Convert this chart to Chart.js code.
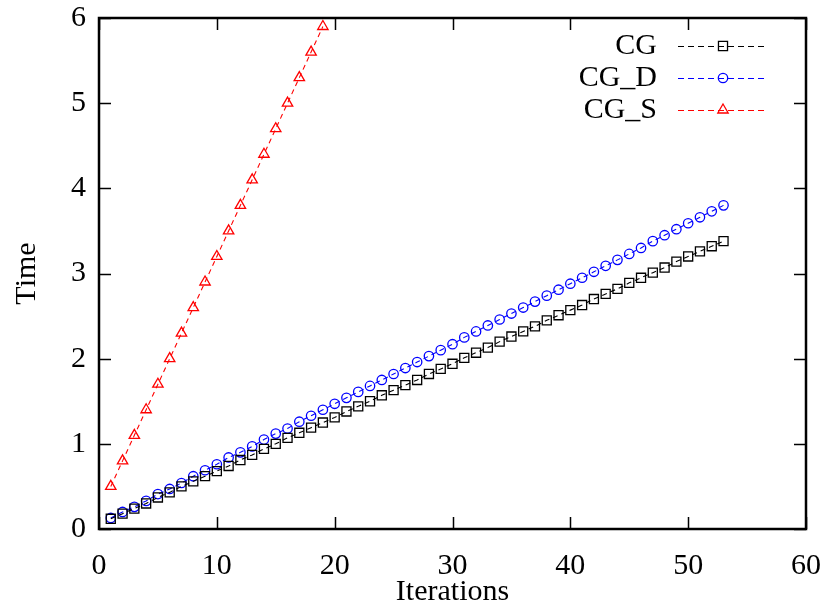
<!DOCTYPE html>
<html>
<head>
<meta charset="utf-8">
<script src="https://cdn.jsdelivr.net/npm/chart.js@4/dist/chart.umd.min.js"></script>
<style>
  html, body { margin: 0; padding: 0; background: #fff; }
  #wrap { width: 830px; height: 610px; }
</style>
</head>
<body>
<div id="wrap"><canvas id="c" width="830" height="610"></canvas></div>
<script>
const iterations = [1,2,3,4,5,6,7,8,9,10,11,12,13,14,15,16,17,18,19,20,21,22,23,24,25,26,27,28,29,30,31,32,33,34,35,36,37,38,39,40,41,42,43,44,45,46,47,48,49,50,51,52,53];
const seriesNames = ['CG', 'CG_D', 'CG_S'];
const cgTime = [0.12,0.18,0.24,0.30,0.37,0.43,0.50,0.56,0.62,0.68,0.74,0.81,0.87,0.94,1.00,1.07,1.13,1.19,1.25,1.31,1.38,1.44,1.50,1.57,1.63,1.69,1.75,1.82,1.88,1.94,2.01,2.07,2.13,2.20,2.26,2.32,2.38,2.45,2.51,2.57,2.63,2.70,2.76,2.82,2.89,2.95,3.01,3.07,3.14,3.20,3.26,3.32,3.38];
const cgdTime = [0.13,0.20,0.26,0.33,0.41,0.47,0.54,0.62,0.69,0.76,0.84,0.90,0.97,1.05,1.12,1.18,1.26,1.33,1.40,1.47,1.54,1.61,1.68,1.75,1.82,1.89,1.96,2.03,2.10,2.17,2.25,2.32,2.39,2.46,2.53,2.60,2.67,2.74,2.81,2.88,2.95,3.02,3.09,3.16,3.23,3.30,3.38,3.45,3.52,3.59,3.66,3.73,3.80];
const cgsTime = [0.5,0.8,1.1,1.4,1.7,2.0,2.3,2.6,2.9,3.2,3.5,3.8,4.1,4.4,4.7,5.0,5.3,5.6,5.9];
const xTicks = [0,10,20,30,40,50,60];
const yTicks = [0,1,2,3,4,5,6];
const xTitle = 'Iterations';
const yTitle = 'Time';

const FONT = '"Liberation Serif", "Times New Roman", serif';

function pts(ys) { return ys.map((y, i) => ({ x: iterations[i], y: y })); }

const styles = [
  { color: '#000000', pointStyle: 'rect', radius: 6.4 },
  { color: '#0000ff', pointStyle: 'circle', radius: 4.7 },
  { color: '#ff0000', pointStyle: 'triangle', radius: 6.0 }
];
const values = [cgTime, cgdTime, cgsTime];

const datasets = values.map((v, i) => ({
  label: seriesNames[i],
  data: pts(v),
  showLine: true,
  borderColor: styles[i].color,
  borderWidth: 1.1,
  borderDash: [5, 4],
  pointStyle: styles[i].pointStyle,
  pointRadius: styles[i].radius,
  pointBorderColor: styles[i].color,
  pointBackgroundColor: 'rgba(0,0,0,0)',
  pointBorderWidth: 1.3,
  fill: false
}));

const framePlugin = {
  id: 'frame',
  afterDatasetsDraw(chart) {
    const ctx = chart.ctx;
    const a = chart.chartArea;
    const xs = chart.scales.x, ys = chart.scales.y;
    ctx.save();
    ctx.strokeStyle = '#000';
    ctx.lineWidth = 1.5;
    const tl = 12;
    ctx.beginPath();
    xTicks.forEach(t => {
      const px = Math.round(xs.getPixelForValue(t)) + 0.5;
      ctx.moveTo(px, a.bottom); ctx.lineTo(px, a.bottom - tl);
      ctx.moveTo(px, a.top); ctx.lineTo(px, a.top + tl);
    });
    yTicks.forEach(t => {
      const py = Math.round(ys.getPixelForValue(t)) + 0.5;
      ctx.moveTo(a.left, py); ctx.lineTo(a.left + tl, py);
      ctx.moveTo(a.right, py); ctx.lineTo(a.right - tl, py);
    });
    ctx.stroke();
    ctx.lineWidth = 2.5;
    ctx.strokeRect(a.left, a.top, a.right - a.left, a.bottom - a.top);
    // legend
    ctx.font = '30px ' + FONT;
    ctx.textAlign = 'right';
    ctx.textBaseline = 'middle';
    const rows = [46, 78, 110];
    chart.data.datasets.forEach((ds, i) => {
      const y = rows[i];
      ctx.fillStyle = '#000';
      ctx.fillText(ds.label, 657, y);
      ctx.save();
      ctx.strokeStyle = ds.borderColor;
      ctx.lineWidth = 1.1;
      ctx.setLineDash([6, 4]);
      ctx.beginPath();
      ctx.moveTo(678, y + 0.5); ctx.lineTo(768, y + 0.5);
      ctx.stroke();
      ctx.setLineDash([]);
      ctx.strokeStyle = ds.pointBorderColor;
      ctx.fillStyle = 'rgba(0,0,0,0)';
      ctx.lineWidth = 1.3;
      Chart.helpers.drawPoint(ctx, { pointStyle: ds.pointStyle, radius: ds.pointRadius, rotation: 0, borderWidth: 1.3 }, 723, y);
      ctx.restore();
    });
    ctx.restore();
  }
};

new Chart(document.getElementById('c'), {
  type: 'scatter',
  data: { datasets: datasets },
  options: {
    responsive: false,
    animation: false,
    devicePixelRatio: 1,
    layout: { padding: { left: 0, right: 24, top: 18, bottom: 0 } },
    plugins: { legend: { display: false }, tooltip: { enabled: false } },
    scales: {
      x: {
        type: 'linear', min: 0, max: 60,
        afterBuildTicks(s) { s.ticks = xTicks.map(v => ({ value: v })); },
        afterFit(s) { s.height = 81; s.paddingLeft = 0; s.paddingRight = 0; },
        grid: { display: false, drawTicks: false },
        border: { display: false },
        ticks: { color: '#000', font: { family: FONT, size: 30 }, padding: 19, maxRotation: 0 },
        title: { display: true, text: xTitle, color: '#000', font: { family: FONT, size: 30 }, padding: { top: -8, bottom: 0 } }
      },
      y: {
        type: 'linear', min: 0, max: 6,
        afterBuildTicks(s) { s.ticks = yTicks.map(v => ({ value: v })); },
        afterFit(s) { s.width = 99; s.paddingTop = 0; s.paddingBottom = 0; },
        grid: { display: false, drawTicks: false },
        border: { display: false },
        ticks: { color: '#000', font: { family: FONT, size: 30 }, padding: 13 },
        title: { display: true, text: yTitle, color: '#000', font: { family: FONT, size: 30 }, padding: { top: 9, bottom: 0 } }
      }
    }
  },
  plugins: [framePlugin]
});
</script>
</body>
</html>
